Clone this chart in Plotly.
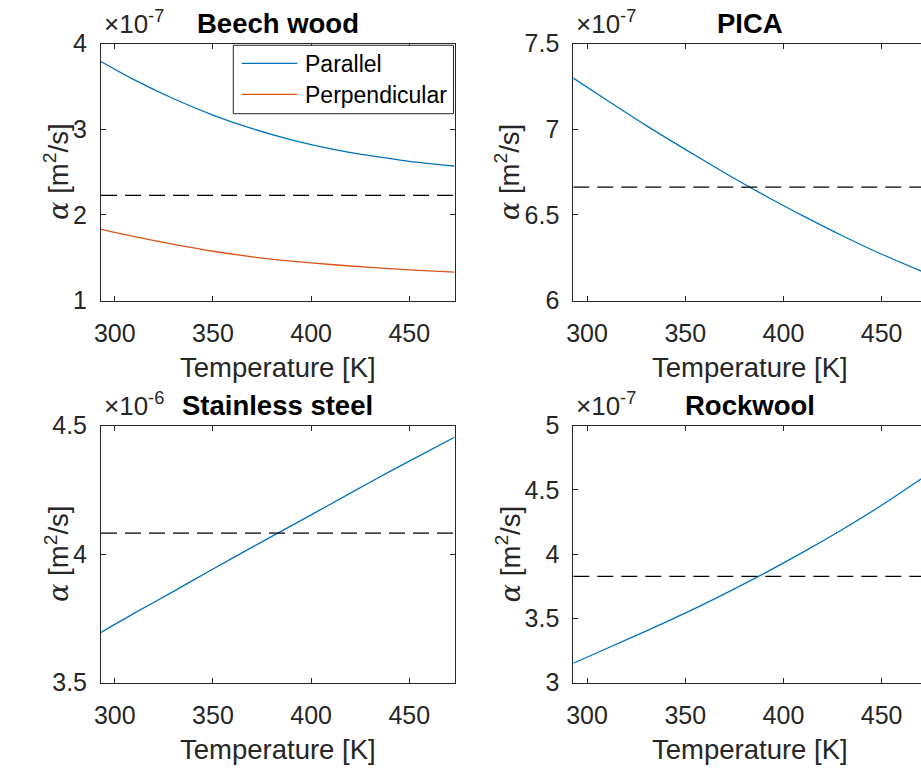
import plotly.graph_objects as go

# Temperature grid [K]
temperature = [293, 310, 330, 350, 370, 390, 410, 430, 450, 473]

# Thermal diffusivity mantissas (scaled by the exponent shown on each axis)
beech_parallel = [3.79, 3.575, 3.355, 3.165, 3.005, 2.875, 2.77, 2.69, 2.625, 2.57]
beech_perpendicular = [1.83, 1.745, 1.655, 1.575, 1.51, 1.46, 1.42, 1.387, 1.358, 1.332]
pica = [7.298, 7.170, 7.022, 6.882, 6.746, 6.616, 6.494, 6.378, 6.270, 6.158]
stainless = [3.695, 3.77, 3.855, 3.942, 4.027, 4.111, 4.195, 4.28, 4.362, 4.455]
rockwool = [3.15, 3.265, 3.40, 3.54, 3.69, 3.848, 4.015, 4.192, 4.38, 4.615]

# Constant reference diffusivity per material (dashed lines)
mean_beech = 2.227
mean_pica = 6.662
mean_stainless = 4.082
mean_rockwool = 3.826

titles = ["Beech wood", "PICA", "Stainless steel", "Rockwool"]
exponents = ["-7", "-7", "-6", "-7"]
y_ticks = [
    [1, 2, 3, 4],
    [6, 6.5, 7, 7.5],
    [3.5, 4, 4.5],
    [3, 3.5, 4, 4.5, 5],
]
y_ranges = [[1, 4], [6, 7.5], [3.5, 4.5], [3, 5]]
x_ticks = [300, 350, 400, 450]

W, H = 921, 769
BLUE = "#0072BD"
ORANGE = "#D95319"
AXC = "#262626"
FONT = "Liberation Sans"


def px(x):
    return x / W


def py(y):
    return 1 - y / H


# Axes boxes in pixels: (left, right), (top, bottom)
left_col = (101.0, 454.5)
right_col = (573.3, 921.0)
top_row = (43.5, 300.5)
bot_row = (425.7, 682.5)
boxes = [
    (left_col, top_row),
    (right_col, top_row),
    (left_col, bot_row),
    (right_col, bot_row),
]
px_per_K = (left_col[1] - left_col[0]) / 180.0

fig = go.Figure()

series = [
    [("Parallel", beech_parallel, BLUE), ("Perpendicular", beech_perpendicular, ORANGE)],
    [("PICA", pica, BLUE)],
    [("Stainless steel", stainless, BLUE)],
    [("Rockwool", rockwool, BLUE)],
]
means = [mean_beech, mean_pica, mean_stainless, mean_rockwool]

for i in range(4):
    xa = "x" if i == 0 else f"x{i + 1}"
    ya = "y" if i == 0 else f"y{i + 1}"
    for name, vals, col in series[i]:
        fig.add_trace(go.Scatter(
            x=temperature, y=vals, mode="lines", name=name,
            line=dict(color=col, width=1.3, shape="spline", smoothing=0.8),
            xaxis=xa, yaxis=ya, showlegend=False,
        ))
    fig.add_trace(go.Scatter(
        x=[temperature[0], temperature[-1]], y=[means[i], means[i]],
        mode="lines", line=dict(color="black", width=1.2, dash="16px,8px"),
        xaxis=xa, yaxis=ya, showlegend=False,
    ))

layout = dict(
    template="none",
    width=W, height=H, margin=dict(l=0, r=0, t=0, b=0, autoexpand=False),
    paper_bgcolor="white", plot_bgcolor="white",
    font=dict(family=FONT, size=25, color=AXC),
    showlegend=False,
)

annotations = []
for i, ((xl, xr), (yt, yb)) in enumerate(boxes):
    right = xl > 300
    suffix = "" if i == 0 else str(i + 1)
    x_end = 293 + (xr - xl) / px_per_K
    layout["xaxis" + suffix] = dict(
        domain=[px(xl), px(xr)], range=[293, x_end],
        anchor="y" + suffix, automargin=False,
        tickvals=x_ticks, ticktext=[str(t) for t in x_ticks],
        ticks="inside", ticklen=5, tickcolor=AXC, tickwidth=1,
        showline=True, linecolor=AXC, linewidth=1, mirror="ticks",
        showgrid=False, zeroline=False, ticklabelstandoff=10,
        tickfont=dict(size=25, color=AXC, family=FONT),
    )
    layout["yaxis" + suffix] = dict(
        domain=[py(yb), py(yt)], range=y_ranges[i],
        anchor="x" + suffix, automargin=False,
        tickvals=y_ticks[i], ticktext=[f"{v:g}" for v in y_ticks[i]],
        ticks="inside", ticklen=5, tickcolor=AXC, tickwidth=1,
        showline=True, linecolor=AXC, linewidth=1,
        mirror=False if right else "ticks",
        showgrid=False, zeroline=False, ticklabelstandoff=8,
        tickfont=dict(size=25, color=AXC, family=FONT),
    )

    full_right = xl + 180 * px_per_K
    cx = (xl + full_right) / 2
    # subplot title
    annotations.append(dict(
        text=f"<b>{titles[i]}</b>", x=px(cx), y=py(yt - 20),
        xref="paper", yref="paper", showarrow=False,
        xanchor="center", yanchor="middle",
        font=dict(size=27.5, color="black", family=FONT),
    ))
    # x-axis label
    annotations.append(dict(
        text="Temperature [K]", x=px(cx), y=py(yb + 66.5),
        xref="paper", yref="paper", showarrow=False,
        xanchor="center", yanchor="middle",
        font=dict(size=27.5, color=AXC, family=FONT),
    ))
    # y-axis label
    ylab_x = xl - (65 if right else 44)
    annotations.append(dict(
        text="<span style=\"font-family:'DejaVu Serif'\"><i>α</i></span> [m<sup>2</sup>/s]",
        x=px(ylab_x), y=py((yt + yb) / 2),
        xref="paper", yref="paper", showarrow=False, textangle=-90,
        xanchor="center", yanchor="middle",
        font=dict(size=27.5, color=AXC, family=FONT),
    ))
    # exponent label
    annotations.append(dict(
        text=f"×10<sup>{exponents[i]}</sup>",
        x=px(xl + 1), y=py(yt - 3),
        xref="paper", yref="paper", showarrow=False,
        xanchor="left", yanchor="bottom",
        font=dict(size=26, color=AXC, family=FONT),
    ))

# legend for the beech wood panel
leg_x0, leg_x1, leg_y0, leg_y1 = 233.3, 453.5, 45.3, 113.7
shapes = [dict(
    type="rect", xref="paper", yref="paper",
    x0=px(leg_x0), x1=px(leg_x1), y0=py(leg_y1), y1=py(leg_y0),
    line=dict(color=AXC, width=1), fillcolor="white", layer="above",
)]
for (name, _, col), ly in zip(series[0], [63.3, 94.3]):
    shapes.append(dict(
        type="line", xref="paper", yref="paper",
        x0=px(241.7), x1=px(297.3), y0=py(ly), y1=py(ly),
        line=dict(color=col, width=1.3), layer="above",
    ))
    annotations.append(dict(
        text=name, x=px(303), y=py(ly + 0.5),
        xref="paper", yref="paper", showarrow=False,
        xanchor="left", yanchor="middle",
        font=dict(size=23, color="black", family=FONT),
    ))

layout["annotations"] = annotations
layout["shapes"] = shapes
fig.update_layout(**layout)

fig.write_html("out.html")
